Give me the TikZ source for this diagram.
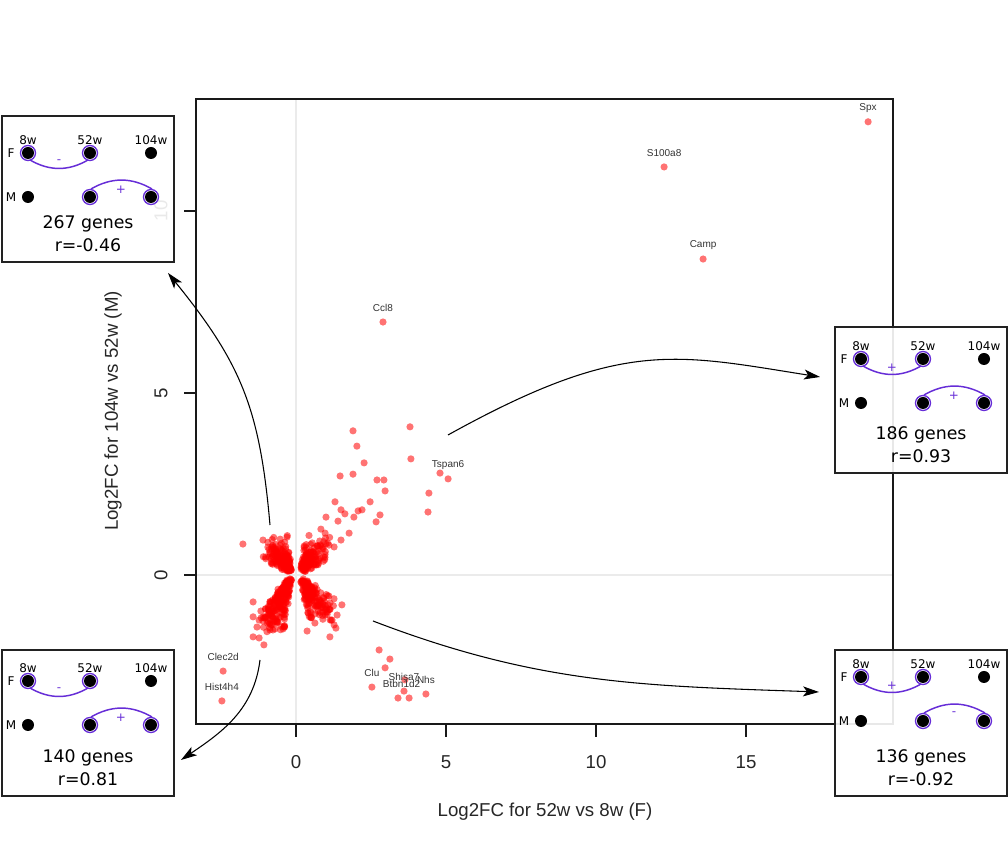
\documentclass[tikz,border=0pt]{standalone}
\usepackage{fontspec}
\setmainfont{Liberation Sans}
\newfontfamily\boxfont{DejaVu Sans}
\usetikzlibrary{arrows.meta}
\definecolor{ringviolet}{RGB}{102,45,215}
\definecolor{framegray}{RGB}{34,34,34}

\tikzset{
  dot/.style={fill=red, fill opacity=0.55},
  glab/.style={font=\fontsize{7.5}{8}\selectfont, text=black!80, inner sep=0pt},
  ticklab/.style={font=\fontsize{14}{16}\selectfont, text=black!85, inner sep=0pt},
  axlab/.style={font=\fontsize{14}{16}\selectfont, text=black!85, inner sep=0pt},
  grid0/.style={draw=black!8, line width=1.5pt},
  axisline/.style={draw=black!90, line width=1pt},
  flow/.style={-{Stealth[length=12pt,width=7.5pt,inset=3pt]}, line width=0.8pt},
  boxframe/.style={draw=framegray, line width=1.8pt, fill=white, fill opacity=0.9,
    minimum width=129pt, minimum height=109.5pt, inner sep=0pt},
  wk/.style={font=\boxfont\fontsize{9}{10}\selectfont, inner sep=0pt},
  ring/.style={draw=ringviolet, line width=1pt},
  link/.style={draw=ringviolet, line width=1.1pt},
  sgn/.style={font=\boxfont\fontsize{9}{10}\selectfont, text=ringviolet, inner sep=0pt},
  genes/.style={font=\boxfont\fontsize{13}{15}\selectfont, inner sep=0pt},
  pics/genebox/.style n args={5}{code={
    \node[boxframe] (-frame) at (86,-73) {};
    \foreach \c/\w in {26/8w, 88/52w, 149/104w}
      \node[wk] (-h\w) at (\c,{13-#1}) {\w};
    \node[wk] (-f) at (9,{-#1}) {F};
    \node[wk] (-m) at (9,{-44-#1}) {M};
    \foreach \c in {26,88,149}{
      \fill (\c,{-#1}) circle (6);
      \fill (\c,{-44-#1}) circle (6);
    }
    \draw[ring] (26,{-#1}) circle (7.5) (88,{-#1}) circle (7.5)
      (88,{-44-#1}) circle (7.5) (149,{-44-#1}) circle (7.5);
    \draw[link] (28,{-7-#1}) to[out=-30,in=-150] (86,{-7-#1});
    \draw[link] (89,{-36-#1}) to[out=30,in=150] (150,{-36-#1});
    \node[sgn] (-fs) at (57,{-9-#1}) {#2};
    \node[sgn] (-ms) at (119,{-37-#1}) {#3};
    \node[genes] (-n) at (86,-108) {#4 genes};
    \node[genes] (-r) at (86,-129) {r=#5};
  }}
}

\begin{document}
\begin{tikzpicture}[x=0.75pt, y=0.75pt]
\useasboundingbox (0,0) rectangle (1008,848);

% zero lines
\draw[grid0] (296,124) -- (296,749);
\draw[grid0] (196,273) -- (893,273);

% data, x = 52w vs 8w (F), y = 104w vs 52w (M)
\begin{scope}[shift={(296,273)}, x=22.5pt, y=27.3pt]
  \pgfmathsetseed{11}
  \foreach \sx/\sy/\dx/\dy/\cnt in {-0.22/0.15/-0.5/0.62/170, 0.22/0.15/0.55/0.62/150,
      -0.22/-0.15/-0.62/-1.15/210, 0.22/-0.15/0.62/-0.8/160}
    \foreach \i in {1,...,\cnt}{
      \pgfmathsetmacro\pos{rnd}
      \pgfmathsetmacro\px{\sx+\pos*\dx+(rnd-0.5)*0.75*(0.2+\pos)}
      \pgfmathsetmacro\py{\sy+\pos*\dy+(rnd-0.5)*0.6*(0.2+\pos)}
      \fill[dot] (\px,\py) circle (2.7pt);
    }
  \foreach \x/\y in {3.80/4.07, 1.90/3.96, 2.03/3.54, 2.27/3.08, 3.83/3.19, 1.47/2.72,
      1.90/2.77, 2.70/2.61, 2.93/2.61, 2.97/2.31, 4.80/2.80, 4.43/2.25, 4.40/1.73,
      1.30/2.01, 2.47/2.01, 1.50/1.79, 1.63/1.68, 2.07/1.76, 2.20/1.79, 2.80/1.65,
      2.67/1.46, 1.93/1.59, 1.00/1.59, 1.40/1.48, 0.83/1.26, 0.97/1.15, 1.77/1.15,
      1.50/0.96, 1.27/0.77, 1.10/0.82, -1.77/0.85, -1.10/0.96, -0.30/1.04,
      -1.43/-0.74, -1.17/-0.99, -1.23/-1.24, -1.43/-1.15, -0.77/-1.18, -0.63/-1.29,
      -0.87/-1.51, -0.77/-1.51, -1.43/-1.70, -1.23/-1.73, -1.07/-1.92, -1.30/-1.43,
      -0.47/-1.04, 1.13/-0.77, 1.53/-0.82, 0.90/-0.82, 1.00/-1.02, 1.17/-1.24,
      1.37/-1.10, 1.27/-1.37, 0.63/-1.32, 0.37/-1.54, 1.13/-1.70, 1.33/-1.46,
      2.77/-2.06, 3.13/-2.31, 2.97/-2.55, 3.63/-2.88, 3.40/-3.38, 3.77/-3.38}
    \fill[dot] (\x,\y) circle (2.7pt);
  % named genes
  \foreach \x/\y/\g in {19.07/12.45/Spx, 12.27/11.21/S100a8, 13.57/8.68/Camp,
      2.90/6.95/Ccl8, 5.07/2.64/Tspan6, -2.43/-2.64/Clec2d, -2.47/-3.46/Hist4h4,
      2.53/-3.08/Clu, 3.60/-3.19/Shisa7, 4.33/-3.27/Nhs}{
    \fill[dot] (\x,\y) circle (2.7pt);
    \node[glab, yshift=10.5pt] (g\g) at (\x,\y) {\g};
  }
  \node[glab, yshift=10.5pt] (gbtb) at (3.52,-3.38) {Btbn1d2};
\end{scope}

% frame, ticks and axis labels
\draw[axisline] (196,124) rectangle (893,749);
\foreach \v/\t in {296/0, 446/5, 596/10, 746/15}{
  \draw[axisline] (\v,124) -- (\v,111);
  \node[ticklab] (xt\t) at (\v,86) {\t};
}
\foreach \v/\t in {273/0, 455/5, 637/10}{
  \draw[axisline] (196,\v) -- (184,\v);
  \node[ticklab, rotate=90] (yt\t) at (161,\v) {\t};
}
\node[axlab] (xlab) at (545,36) {Log2FC for 52w vs 8w (F)};
\node[axlab, rotate=90] (ylab) at (113,437) {Log2FC for 104w vs 52w (M)};

% arrows to the pattern boxes
\coordinate (s1) at (270,323); \coordinate (e1) at (168,575);
\coordinate (s2) at (448,413); \coordinate (e2) at (820,471);
\coordinate (s3) at (373,227); \coordinate (e3) at (819,156);
\coordinate (s4) at (260,188); \coordinate (e4) at (181,88);
\draw[flow] (s1) to[out=95,in=-51,looseness=1.1] (e1);
\draw[flow] (s2) to[out=29,in=171,out looseness=1.35] (e2);
\draw[flow] (s3) to[out=-21,in=178] (e3);
\draw[flow] (s4) to[out=-97,in=34] (e4);

% pattern boxes
\pic (tl) at (2,732) {genebox={37}{-}{+}{267}{-0.46}};
\pic (tr) at (835,521) {genebox={32}{+}{+}{186}{0.93}};
\pic (bl) at (2,198) {genebox={31}{-}{+}{140}{0.81}};
\pic (br) at (835,198) {genebox={27}{+}{-}{136}{-0.92}};
\end{tikzpicture}
\end{document}
